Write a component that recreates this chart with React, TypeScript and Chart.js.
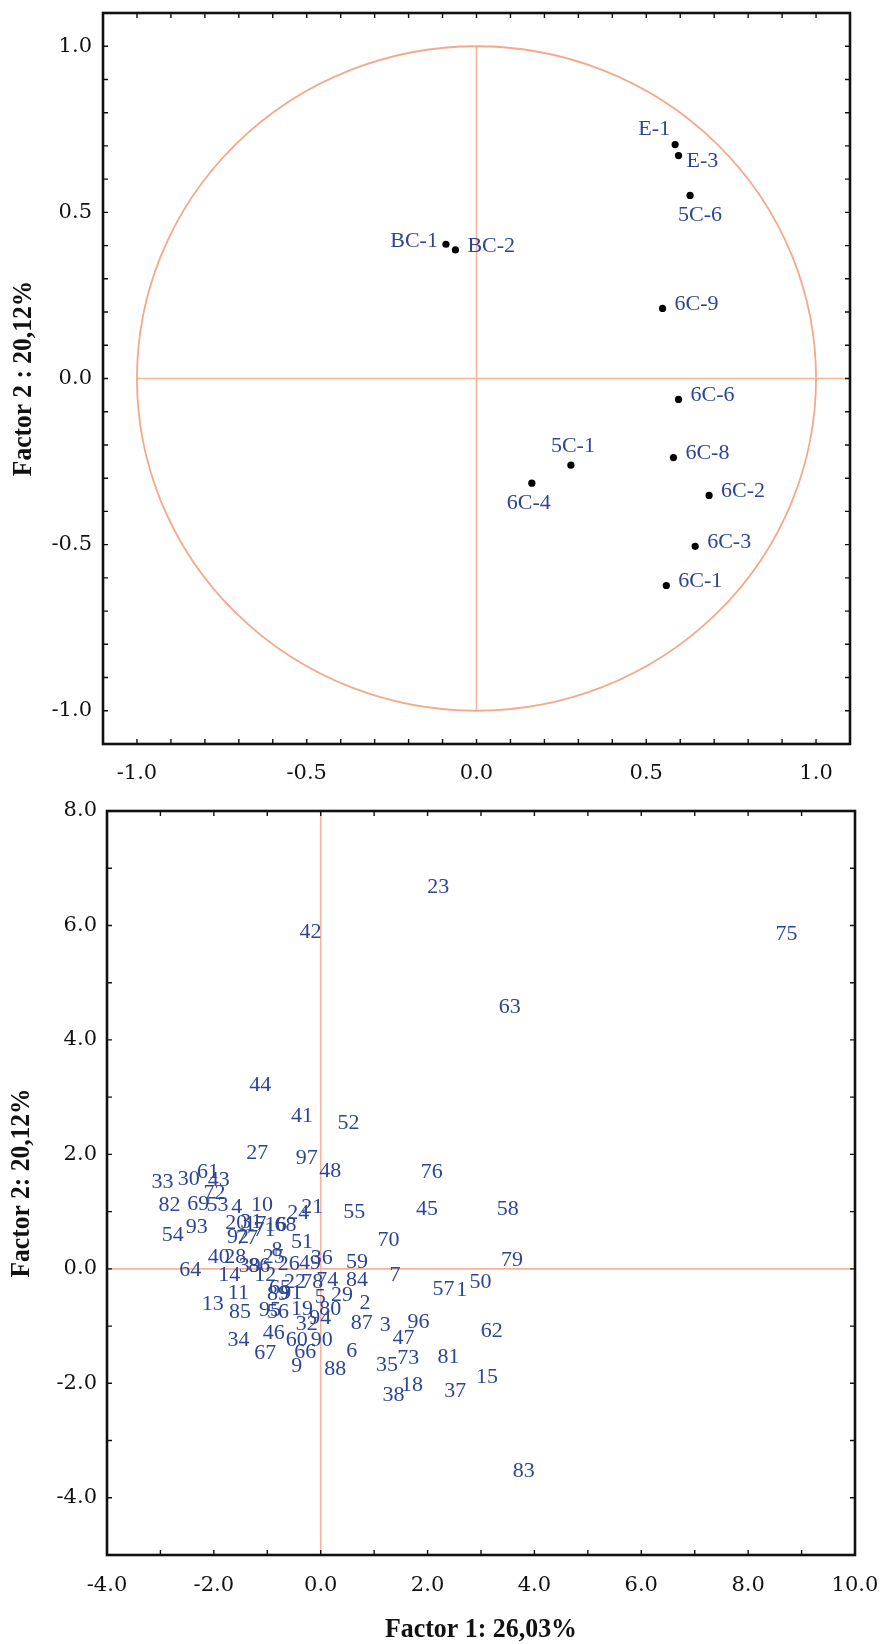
import { useEffect, useRef } from 'react';
import { Chart, registerables } from 'chart.js';

Chart.register(...registerables);

// ---------- Top chart: factor loadings ----------
const topNames = ['E-1', 'E-3', '5C-6', 'BC-1', 'BC-2', '6C-9', '6C-6', '5C-1', '6C-8', '6C-4', '6C-2', '6C-3', '6C-1'];
const topX = [0.585, 0.595, 0.629, -0.090, -0.062, 0.548, 0.595, 0.278, 0.580, 0.163, 0.685, 0.644, 0.559];
const topY = [0.704, 0.671, 0.551, 0.404, 0.387, 0.211, -0.063, -0.261, -0.238, -0.315, -0.352, -0.505, -0.623];
const topLabelSide = ['aboveLeft', 'rightLow', 'belowRight', 'left', 'right', 'right', 'right', 'above', 'right', 'below', 'right', 'right', 'right'];
const topTicks = [-1.0, -0.5, 0.0, 0.5, 1.0];
const topYTitle = 'Factor 2 : 20,12%';

// ---------- Bottom chart: case scores ----------
const bottomIds = [
  '1', '2', '3', '4', '5', '6', '7', '8', '9', '10',
  '11', '12', '13', '14', '15', '16', '17', '18', '19', '20',
  '21', '22', '23', '24', '25', '26', '27', '28', '29', '30',
  '31', '32', '33', '34', '35', '36', '37', '38', '39', '40',
  '41', '42', '43', '44', '45', '46', '47', '48', '49', '50',
  '51', '52', '53', '54', '55', '56', '57', '58', '59', '60',
  '61', '62', '63', '64', '65', '66', '67', '68', '69', '70',
  '71', '72', '73', '74', '75', '76', '77', '78', '79', '80',
  '81', '82', '83', '84', '85', '86', '87', '88', '89', '90',
  '91', '92', '93', '94', '95', '96', '97',
];
const bottomX = [
  2.64, 0.83, 1.21, -1.57, -0.01, 0.58, 1.39, -0.82, -0.45, -1.10,
  -1.54, -1.04, -2.02, -1.71, 3.11, -0.84, -1.22, 1.71, -0.35, -1.58,
  -0.16, -0.48, 2.20, -0.42, -0.88, -0.60, -1.19, -1.60, 0.40, -2.47,
  -1.30, -0.26, -2.96, -1.54, 1.24, 0.02, 2.52, 1.36, -1.33, -1.91,
  -0.35, -0.19, -1.91, -1.13, 1.99, -0.88, 1.55, 0.18, -0.20, 2.99,
  -0.35, 0.52, -1.93, -2.77, 0.63, -0.80, 2.30, 3.50, 0.68, -0.45,
  -2.11, 3.20, 3.54, -2.44, -0.76, -0.29, -1.04, -0.66, -2.29, 1.27,
  -1.05, -1.99, 1.64, 0.12, 8.72, 2.08, -1.38, -0.16, 3.58, 0.18,
  2.39, -2.83, 3.80, 0.68, -1.51, -1.15, 0.77, 0.27, -0.80, 0.02,
  -0.55, -1.55, -2.32, -0.01, -0.95, 1.83, -0.26,
];
const bottomY = [
  -0.38, -0.60, -0.99, 1.08, -0.49, -1.44, -0.11, 0.33, -1.71, 1.11,
  -0.42, -0.11, -0.61, -0.11, -1.89, 0.76, 0.78, -2.04, -0.70, 0.79,
  1.08, -0.23, 6.67, 0.98, 0.21, 0.08, 2.02, 0.21, -0.46, 1.56,
  0.82, -0.96, 1.52, -1.24, -1.69, 0.18, -2.13, -2.21, 0.04, 0.21,
  2.67, 5.89, 1.54, 3.20, 1.05, -1.13, -1.22, 1.71, 0.09, -0.23,
  0.47, 2.54, 1.11, 0.59, 0.99, -0.75, -0.35, 1.05, 0.12, -1.24,
  1.68, -1.09, 4.57, -0.03, -0.34, -1.46, -1.48, 0.76, 1.13, 0.50,
  0.67, 1.32, -1.57, -0.20, 5.84, 1.68, 0.53, -0.23, 0.15, -0.70,
  -1.54, 1.11, -3.54, -0.20, -0.76, 0.05, -0.95, -1.75, -0.45, -1.25,
  -0.42, 0.55, 0.72, -0.87, -0.72, -0.93, 1.93,
];
const bottomXTicks = [-4, -2, 0, 2, 4, 6, 8, 10];
const bottomYTicks = [-4, -2, 0, 2, 4, 6, 8];
const bottomXTitle = 'Factor 1: 26,03%';
const bottomYTitle = 'Factor 2: 20,12%';

const LABEL_COLOR = '#2e4593';
const REF_LINE = '#f5b49b';
const CIRCLE_LINE = '#f4a98c';
const INK = '#111111';
const TITLE_FONT = 'bold 28px "Liberation Serif", serif';
const TITLE_SQUEEZE = 0.91;

const ANCHORS: Record<string, { dx: number; dy: number; align: CanvasTextAlign }> = {
  right: { dx: 12, dy: -4, align: 'left' },
  rightLow: { dx: 8, dy: 6, align: 'left' },
  left: { dx: -8, dy: -3, align: 'right' },
  aboveLeft: { dx: -5, dy: -15, align: 'right' },
  above: { dx: 2, dy: -19, align: 'center' },
  below: { dx: -3, dy: 20, align: 'center' },
  belowRight: { dx: 10, dy: 20, align: 'center' },
  center: { dx: 0, dy: 0, align: 'center' },
};

const framePlugin = {
  id: 'pcaFrame',
  beforeDatasetsDraw(chart: any, _args: any, opts: any) {
    const { ctx, chartArea: ca } = chart;
    const xs = chart.scales.x;
    const ys = chart.scales.y;
    ctx.save();
    ctx.beginPath();
    ctx.rect(ca.left, ca.top, ca.right - ca.left, ca.bottom - ca.top);
    ctx.clip();
    const x0 = xs.getPixelForValue(0);
    const y0 = ys.getPixelForValue(0);
    const hx1 = opts.hFrom == null ? ca.left : xs.getPixelForValue(opts.hFrom);
    const hx2 = opts.hTo == null ? ca.right : xs.getPixelForValue(opts.hTo);
    const vy1 = opts.vTo == null ? ca.top : ys.getPixelForValue(opts.vTo);
    const vy2 = opts.vFrom == null ? ca.bottom : ys.getPixelForValue(opts.vFrom);
    ctx.strokeStyle = REF_LINE;
    ctx.lineWidth = 1.6;
    ctx.beginPath();
    ctx.moveTo(hx1, y0);
    ctx.lineTo(hx2, y0);
    ctx.moveTo(x0, vy1);
    ctx.lineTo(x0, vy2);
    ctx.stroke();
    if (opts.circle) {
      const rx = xs.getPixelForValue(opts.circle) - x0;
      const ry = y0 - ys.getPixelForValue(opts.circle);
      ctx.strokeStyle = CIRCLE_LINE;
      ctx.lineWidth = 1.8;
      ctx.beginPath();
      ctx.ellipse(x0, y0, rx, ry, 0, 0, Math.PI * 2);
      ctx.stroke();
    }
    ctx.restore();
  },
  afterDraw(chart: any, _args: any, opts: any) {
    const { ctx, chartArea: ca } = chart;
    const xs = chart.scales.x;
    const ys = chart.scales.y;
    const steps = (scale: any, step: number) => {
      const out: number[] = [];
      const k0 = Math.ceil(scale.min / step - 1e-6);
      const k1 = Math.floor(scale.max / step + 1e-6);
      for (let k = k0; k <= k1; k++) out.push(k * step);
      return out;
    };
    const len = opts.tickLen || 5;
    ctx.save();
    ctx.strokeStyle = INK;
    ctx.lineWidth = 1.4;
    ctx.beginPath();
    for (const v of steps(xs, opts.stepX)) {
      const px = xs.getPixelForValue(v);
      ctx.moveTo(px, ca.bottom);
      ctx.lineTo(px, ca.bottom - len);
      ctx.moveTo(px, ca.top);
      ctx.lineTo(px, ca.top + len);
    }
    for (const v of steps(ys, opts.stepY)) {
      const py = ys.getPixelForValue(v);
      ctx.moveTo(ca.left, py);
      ctx.lineTo(ca.left + len, py);
      ctx.moveTo(ca.right, py);
      ctx.lineTo(ca.right - len, py);
    }
    ctx.stroke();
    ctx.lineWidth = 2.6;
    ctx.strokeRect(ca.left, ca.top, ca.right - ca.left, ca.bottom - ca.top);

    // axis titles (real text, slightly condensed like the original typeface)
    ctx.fillStyle = INK;
    ctx.font = TITLE_FONT;
    ctx.textAlign = 'center';
    ctx.textBaseline = 'middle';
    if (opts.yTitle) {
      ctx.save();
      ctx.translate(opts.yTitleX, (ca.top + ca.bottom) / 2);
      ctx.rotate(-Math.PI / 2);
      ctx.scale(TITLE_SQUEEZE, 1);
      ctx.fillText(opts.yTitle, 0, 0);
      ctx.restore();
    }
    if (opts.xTitle) {
      ctx.save();
      ctx.translate((ca.left + ca.right) / 2, opts.xTitleY);
      ctx.scale(TITLE_SQUEEZE + 0.015, 1);
      ctx.fillText(opts.xTitle, 0, 0);
      ctx.restore();
    }
    ctx.restore();
  },
};

const labelPlugin = {
  id: 'pointTextLabels',
  afterDatasetsDraw(chart: any) {
    const { ctx } = chart;
    chart.data.datasets.forEach((ds: any, i: number) => {
      if (!ds.pointLabels) return;
      const meta = chart.getDatasetMeta(i);
      ctx.save();
      ctx.font = ds.labelFont;
      ctx.fillStyle = LABEL_COLOR;
      ctx.textBaseline = 'middle';
      meta.data.forEach((el: any, j: number) => {
        const a = ANCHORS[ds.labelSides ? ds.labelSides[j] : 'center'];
        ctx.textAlign = a.align;
        ctx.fillText(ds.pointLabels[j], el.x + a.dx, el.y + a.dy);
      });
      ctx.restore();
    });
  },
};

const tickFont = { family: '"DejaVu Serif", serif', size: 21 };

function axis(min: number, max: number, values: number[], fit: (s: any) => void, pad: number) {
  return {
    type: 'linear',
    min,
    max,
    afterBuildTicks: (s: any) => {
      s.ticks = values.map((v) => ({ value: v }));
    },
    afterFit: fit,
    grid: { display: false, drawTicks: false },
    border: { display: false },
    title: { display: false },
    ticks: {
      callback: (v: any) => Number(v).toFixed(1),
      font: tickFont,
      color: INK,
      padding: pad,
      maxRotation: 0,
      autoSkip: false,
    },
  };
}

function TopChart() {
  const ref = useRef<HTMLCanvasElement>(null);
  useEffect(() => {
    const chart = new Chart(ref.current as HTMLCanvasElement, {
      type: 'scatter',
      data: {
        datasets: [
          {
            data: topX.map((x, i) => ({ x, y: topY[i] })),
            pointRadius: 3.6,
            pointBackgroundColor: '#000',
            pointBorderWidth: 0,
            pointLabels: topNames,
            labelSides: topLabelSide,
            labelFont: '22px "Liberation Serif", serif',
          } as any,
        ],
      },
      options: {
        responsive: false,
        animation: false,
        layout: { padding: { left: 0, right: 31, top: 13, bottom: 0 } },
        plugins: {
          legend: { display: false },
          tooltip: { enabled: false },
          pcaFrame: {
            circle: 1, hFrom: -1, hTo: null, vFrom: -1, vTo: 1, stepX: 0.1, stepY: 0.1, tickLen: 5,
            yTitle: topYTitle, yTitleX: 24,
          },
        } as any,
        scales: {
          x: axis(-1.1, 1.1, topTicks, (s: any) => {
            s.height = 54;
            s.paddingLeft = 0;
            s.paddingRight = 0;
          }, 17),
          y: axis(-1.1, 1.1, topTicks, (s: any) => {
            s.width = 103;
            s.paddingTop = 0;
            s.paddingBottom = 0;
          }, 11),
        } as any,
      },
      plugins: [framePlugin, labelPlugin],
    });
    return () => chart.destroy();
  }, []);
  return <canvas ref={ref} width={881} height={798} style={{ position: 'absolute', left: 0, top: 0 }} />;
}

function BottomChart() {
  const ref = useRef<HTMLCanvasElement>(null);
  useEffect(() => {
    const chart = new Chart(ref.current as HTMLCanvasElement, {
      type: 'scatter',
      data: {
        datasets: [
          {
            data: bottomX.map((x, i) => ({ x, y: bottomY[i] })),
            pointRadius: 0,
            pointHoverRadius: 0,
            pointLabels: bottomIds,
            labelFont: '22px "Liberation Serif", serif',
          } as any,
        ],
      },
      options: {
        responsive: false,
        animation: false,
        layout: { padding: { left: 0, right: 26, top: 13, bottom: 0 } },
        plugins: {
          legend: { display: false },
          tooltip: { enabled: false },
          pcaFrame: {
            circle: 0, hFrom: null, hTo: null, vFrom: null, vTo: null, stepX: 1, stepY: 1, tickLen: 5,
            yTitle: bottomYTitle, yTitleX: 22, xTitle: bottomXTitle, xTitleY: 832,
          },
        } as any,
        scales: {
          x: axis(-4, 10, bottomXTicks, (s: any) => {
            s.height = 89;
            s.paddingLeft = 0;
            s.paddingRight = 0;
          }, 18),
          y: axis(-5, 8, bottomYTicks, (s: any) => {
            s.width = 107;
            s.paddingTop = 0;
            s.paddingBottom = 0;
          }, 10),
        } as any,
      },
      plugins: [framePlugin, labelPlugin],
    });
    return () => chart.destroy();
  }, []);
  return <canvas ref={ref} width={881} height={846} style={{ position: 'absolute', left: 0, top: 798 }} />;
}

export default function App() {
  return (
    <div style={{ position: 'absolute', left: 0, top: 0, width: 881, height: 1644, background: '#fff', overflow: 'hidden' }}>
      <TopChart />
      <BottomChart />
    </div>
  );
}
